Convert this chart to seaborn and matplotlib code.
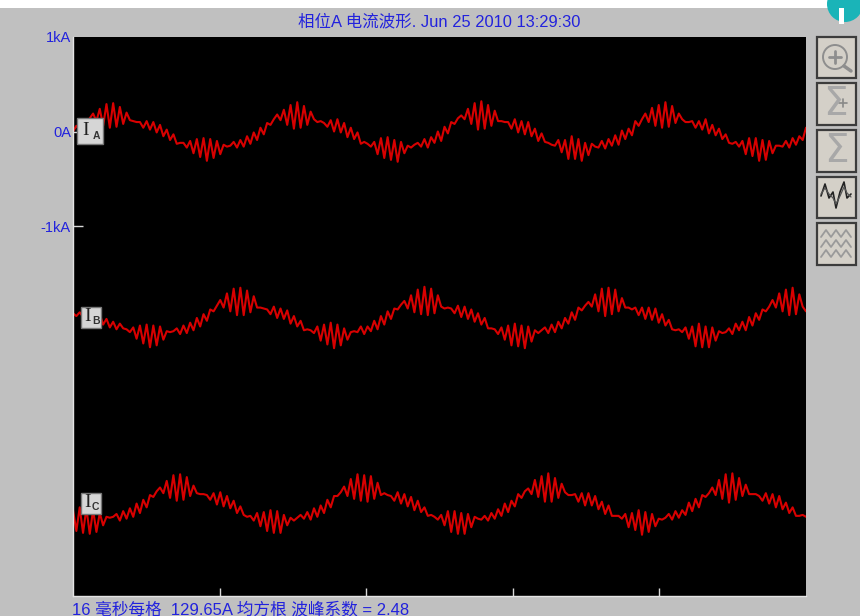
import numpy as np
import pandas as pd
import matplotlib
matplotlib.use("Agg")
import matplotlib.pyplot as plt
from matplotlib.patches import Rectangle, Circle
import seaborn as sns

# Waveform values, in amps around each channel's own zero
phase_a = [
    0, 60, 20, 100, 60, 140,
    190, 110, 240, 60, 290, 40, 300, 50, 260, 80, 200, 120,
    110, 100, 100,
    40, 110, 20, 100, -10, 70, -50, 20, -90, -30, -130,
    -120, -120,
    -170, -100, -230, -80, -270, -70, -310, -80, -280, -100, -240, -140,
    -160, -150,
    -110, -170, -90, -160, -50, -130, -10, -90, 40, -30, 90,
    70, 130,
    180, 120, 230, 70, 280, 30, 310, 40, 270, 70, 210, 130,
    100, 110, 90,
    50, 120, 0, 130, -10, 90, -60, 40, -80, -10, -130,
    -110, -130,
    -160, -110, -240, -70, -280, -60, -300, -90, -320, -110, -230, -150,
    -170, -140,
    -120, -160, -80, -170, -60, -120, 0, -100, 50, -20, 100,
    80, 140,
    170, 130, 240, 80, 300, 20, 320, 30, 280, 60, 220, 110,
    110, 100, 100,
    30, 130, -10, 110, -30, 100, -50, 30, -100, -20, -110,
    -120, -140,
    -150, -90, -220, -90, -290, -50, -290, -80, -310, -120, -250, -130,
    -160, -170,
    -100, -180, -80, -150, -40, -140, 10, -80, 30, -40, 110,
    60, 130,
    190, 100, 250, 60, 280, 40, 310, 50, 270, 90, 190, 130,
    100, 100, 110,
    40, 110, 20, 130, -20, 70, -40, 30, -80, -30, -120,
    -130, -110,
    -160, -100, -240, -70, -260, -70, -310, -90, -300, -100, -230, -150,
    -150, -160,
    -100, -170, -70, -140, -50, -90, 40,
]
phase_b = [
    50, 20, 60, 10, 40, -10, 50, -40, 40, -70, -10, -100, -40, -120, -60,
    -110, -120,
    -150, -100, -220, -80, -270, -70, -310, -80, -290, -90, -230, -140,
    -150, -140,
    -110, -170, -80, -160, -50, -130, 0, -90, 40, -30, 90,
    70, 130,
    190, 110, 260, 70, 310, 30, 320, 30, 290, 60, 230, 110,
    110, 100, 90,
    40, 120, 0, 100, -10, 80, -60, 20, -90, -30, -130,
    -120, -130,
    -160, -90, -240, -70, -280, -50, -320, -70, -290, -110, -230, -150,
    -140, -150,
    -90, -170, -90, -140, -30, -120, 20, -70, 70, -10, 100,
    90, 140,
    180, 100, 240, 60, 300, 40, 330, 30, 310, 50, 240, 120,
    100, 110, 100,
    50, 130, 10, 120, -10, 90, -40, 50, -70, 0, -110,
    -110, -120,
    -170, -100, -230, -80, -290, -60, -300, -80, -320, -90, -250, -130,
    -160, -130,
    -100, -160, -70, -150, -40, -110, 0, -60, 60, -20, 110,
    80, 130,
    170, 120, 250, 70, 310, 20, 320, 40, 300, 70, 210, 110,
    110, 90, 110,
    30, 110, -10, 110, -20, 100, -50, 40, -80, -20, -120,
    -130, -120,
    -150, -100, -220, -90, -300, -60, -310, -90, -310, -100, -240, -140,
    -160, -150,
    -110, -170, -60, -130, -40, -130, 10, -80, 50, -20, 90,
    70, 120,
    190, 110, 260, 70, 300, 30, 320, 40, 250, 120, 70,
]
phase_c = [
    -60, -280, -30, -300, -40, -310, -60, -290, -90, -220, -130,
    -140, -130,
    -100, -170, -70, -150, -40, -130, 10, -90, 50, -30, 100,
    80, 140,
    180, 120, 250, 70, 310, 40, 320, 50, 290, 90, 200, 120,
    110, 110, 100,
    50, 120, 0, 130, -20, 90, -40, 40, -90, -20, -110,
    -130, -120,
    -170, -90, -230, -80, -280, -60, -300, -70, -300, -110, -220, -140,
    -170, -140,
    -110, -150, -80, -160, -40, -130, -10, -90, 50, -30, 90,
    90, 130,
    190, 90, 270, 60, 320, 40, 310, 30, 300, 60, 230, 100,
    120, 100, 90,
    40, 130, 10, 110, -20, 80, -60, 40, -80, -30, -120,
    -110, -130,
    -160, -110, -220, -70, -290, -70, -310, -90, -310, -100, -240, -130,
    -150, -160,
    -120, -170, -90, -150, -50, -120, 10, -80, 40, -20, 110,
    70, 140,
    170, 110, 260, 80, 300, 30, 330, 30, 280, 70, 220, 130,
    100, 100, 110,
    30, 120, -10, 120, -10, 90, -50, 30, -100, -10, -120,
    -120, -120,
    -150, -100, -240, -90, -270, -60, -320, -80, -290, -100, -230, -150,
    -160, -140,
    -100, -160, -70, -140, -60, -110, 20, -70, 60, -30, 100,
    80, 120,
    180, 100, 260, 60, 320, 20, 330, 50, 280, 90, 210, 110,
    110, 110, 90,
    40, 120, 10, 110, -30, 90, -50, 20, -90, -30, -120,
    -120, -110, -130,
]
channel_names = ["A", "B", "C"]
channel_offsets = [0, -1973, -3947]
y_ticks = [1000, 0, -1000]
y_tick_labels = ["1kA", "0A", "-1kA"]
x_ticks = [16, 32, 48, 64]
span_ms = 80

title = "相位A 电流波形. Jun 25 2010 13:29:30"
footer = "16 毫秒每格  129.65A 均方根 波峰系数 = 2.48"

sns.set_theme(style="dark")
plt.rcParams["font.family"] = ["Liberation Sans", "Noto Sans CJK SC"]

BLUE = "#2222dd"
GRAY = "#c0c0c0"
BUTTON = "#d4d0c8"

frames = []
for name, offset, values in zip(channel_names, channel_offsets, [phase_a, phase_b, phase_c]):
    frames.append(pd.DataFrame({
        "ms": np.linspace(0, span_ms, len(values)),
        "amps": np.array(values) + offset,
        "channel": name,
    }))
df = pd.concat(frames, ignore_index=True)

W, H = 860, 616
fig = plt.figure(figsize=(W / 100, H / 100), dpi=100, facecolor=GRAY)
ax = fig.add_axes([73 / W, 1 - 596 / H, 733 / W, 559 / H], facecolor="black")

sns.lineplot(data=df, x="ms", y="amps", hue="channel", palette=["#d80000"] * 3,
             estimator=None, sort=False, legend=False, linewidth=1.5, ax=ax)

ax.set_xlim(0, span_ms)
ax.set_ylim(-4915, 1000)
ax.set_xlabel("")
ax.set_ylabel("")
ax.grid(False)
ax.set_xticks(x_ticks)
ax.set_xticklabels([])
ax.set_yticks(y_ticks)
ax.set_yticklabels(y_tick_labels, color=BLUE, fontsize=10.5)
ax.tick_params(axis="x", direction="in", length=6, width=1, color="#d8d8d8", bottom=True)
ax.tick_params(axis="y", direction="in", length=7, width=1, color="#d8d8d8", left=True, pad=1.5)
ax.yaxis.get_major_ticks()[0].tick1line.set_visible(False)
for side in ["top", "right"]:
    ax.spines[side].set_visible(False)
for side in ["left", "bottom"]:
    ax.spines[side].set_color("#e4e4e4")
    ax.spines[side].set_linewidth(1)

# Window furniture is drawn on a pixel-sized overlay
ov = fig.add_axes([0, 0, 1, 1], facecolor="none")
ov.set_xlim(0, W)
ov.set_ylim(H, 0)
ov.axis("off")

ov.add_patch(Rectangle((0, 0), W, 8, color="white", lw=0))
ov.add_patch(Circle((845, 4), 18, color="#1ab4b8", lw=0))
ov.add_patch(Rectangle((839, 8), 5, 16, color="white", lw=0))

ov.text(439.5, 22, title, color=BLUE, fontsize=11.85, ha="center", va="center")
ov.text(72, 609, footer, color=BLUE, fontsize=12, ha="left", va="center")

# Channel tags
tags = [(77, 118, 26, 26, "A"), (81, 307, 20, 21, "B"), (81, 493, 20, 21, "C")]
for x0, y0, w, h, sub in tags:
    ov.add_patch(Rectangle((x0, y0), w, h, facecolor="#d6d6d6", edgecolor="#777777", lw=1))
    ov.text(x0 + w * 0.34, y0 + h * 0.47, "I", family="Liberation Serif", fontsize=14,
            color="#222222", ha="center", va="center")
    ov.text(x0 + w * 0.74, y0 + h * 0.68, sub, fontsize=7.5, color="#333333",
            ha="center", va="center", fontweight="bold")

# Toolbar buttons
buttons = [(37, 41), (83, 42), (130, 42), (177, 41), (223, 42)]
for y0, h in buttons:
    ov.add_patch(Rectangle((817, y0), 39, h, facecolor=BUTTON, edgecolor="#3c3c3c", lw=1.6))

icon = "#8e8e8e"
ov.add_patch(Circle((835, 57), 12, facecolor="none", edgecolor=icon, lw=1.4))
ov.plot([844, 851], [66, 71], color=icon, lw=2.5)
ov.plot([829, 841], [57, 57], color=icon, lw=2)
ov.plot([835, 835], [51, 63], color=icon, lw=2)
ov.text(835, 104, "Σ", fontsize=28, color="#a8a8a8", ha="center", va="center", family="DejaVu Sans")
ov.plot([839, 847], [103, 103], color="#888888", lw=1.2)
ov.plot([843, 843], [99, 107], color="#888888", lw=1.2)
ov.text(836, 151, "Σ", fontsize=28, color="#a8a8a8", ha="center", va="center", family="DejaVu Sans")

wave_x = [821, 825, 829, 833, 836, 840, 844, 847, 851]
ov.plot(wave_x, [196, 184, 198, 192, 208, 192, 182, 198, 194], color="#222222", lw=1.2)
ov.plot(wave_x, [194, 188, 194, 198, 204, 196, 187, 193, 197], color="#555555", lw=0.9)
for shift in [233, 243, 253]:
    ov.plot([821, 826, 831, 836, 841, 846, 851],
            [shift + d for d in [4, -3, 4, -3, 4, -3, 4]], color="#9a9a9a", lw=1.3)

fig.savefig("out.png", dpi=100, facecolor=GRAY)
plt.close(fig)
